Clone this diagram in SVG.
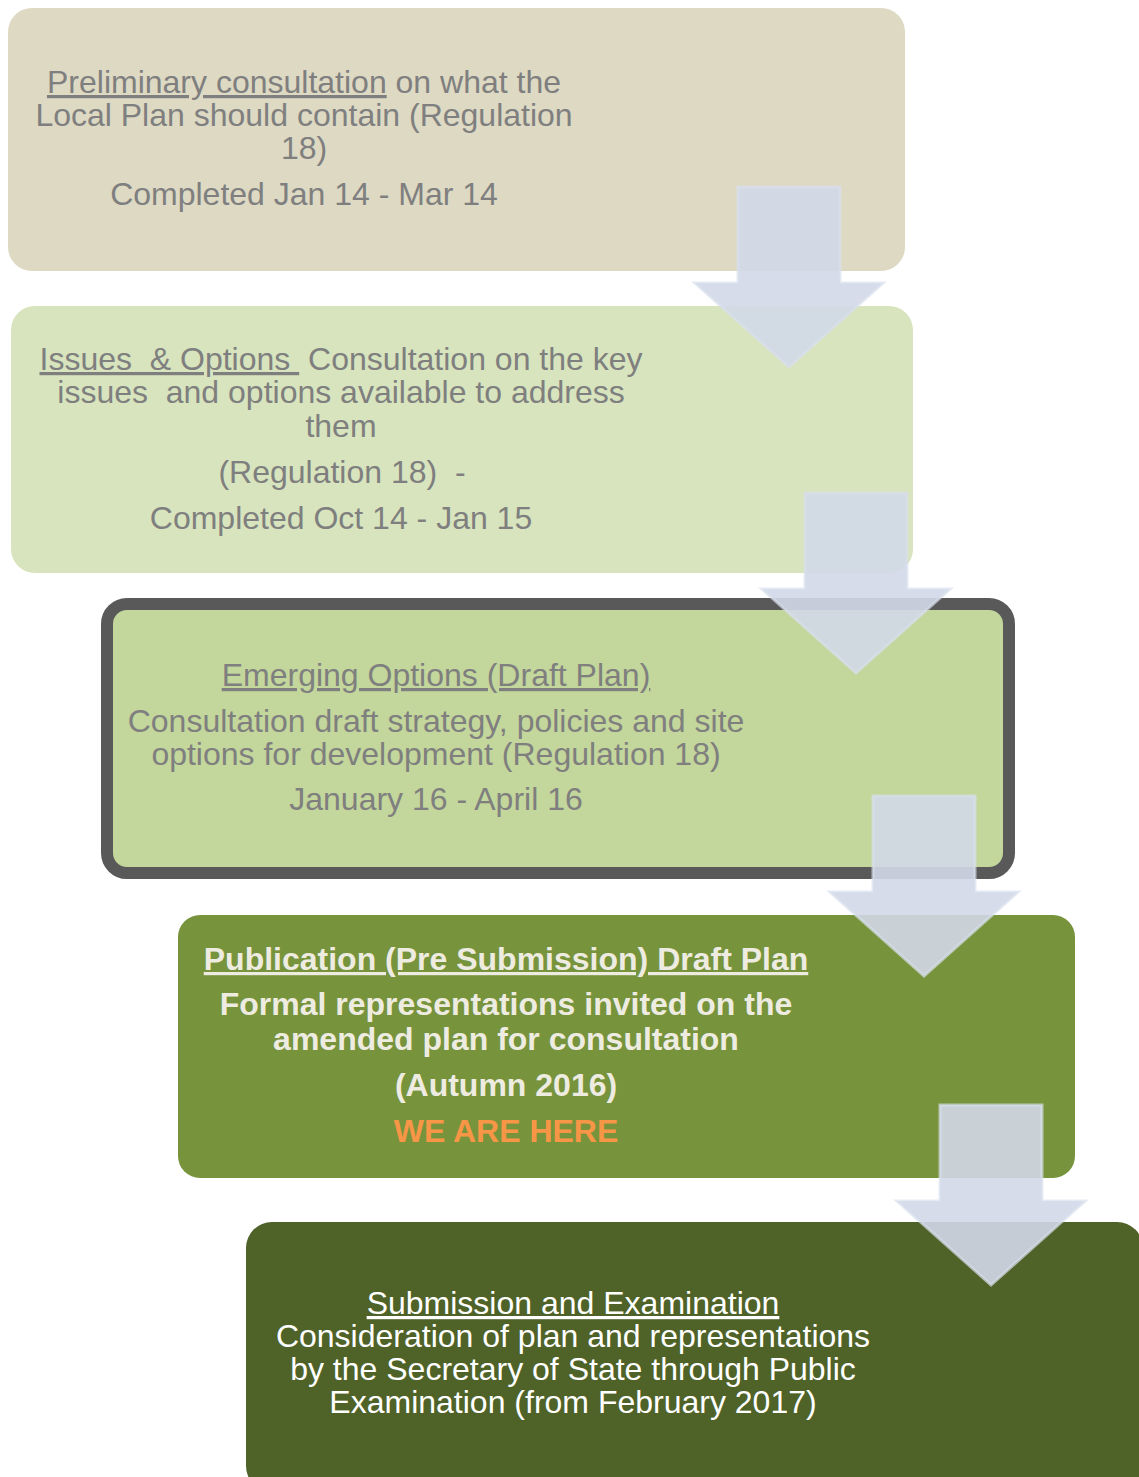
<svg xmlns="http://www.w3.org/2000/svg" width="1139" height="1477" viewBox="0 0 1139 1477">
<style>
text{font-family:"Liberation Sans",Arial,sans-serif;font-size:32px;text-anchor:middle}
.g{fill:#7f7f7f}
.w{fill:#eeece1;font-weight:bold}
.o{fill:#f79646;font-weight:bold}
.wh{fill:#ffffff}
.u{text-decoration:underline}
.arrow{fill:#d1d8e8;fill-opacity:0.9;stroke:#d9dfed;stroke-opacity:0.7;stroke-width:3;stroke-linejoin:miter}
</style>
<rect width="1139" height="1477" fill="#ffffff"/>
<g id="node1">
<rect x="8" y="8" width="897" height="263" rx="24" fill="#ddd9c3"/>
<text class="g" x="304" y="93"><tspan class="u">Preliminary consultation</tspan> on what the</text>
<text class="g" x="304" y="126">Local Plan should contain (Regulation</text>
<text class="g" x="304" y="159">18)</text>
<text class="g" x="304" y="205">Completed Jan 14 - Mar 14</text>
</g>
<g id="node2">
<rect x="11" y="306" width="902" height="267" rx="24" fill="#d7e4bd"/>
<text class="g" x="341" y="370" xml:space="preserve"><tspan class="u">Issues  &amp; Options </tspan> Consultation on the key</text>
<text class="g" x="341" y="403" xml:space="preserve">issues  and options available to address</text>
<text class="g" x="341" y="437">them</text>
<text class="g" x="342" y="483" xml:space="preserve">(Regulation 18)  -</text>
<text class="g" x="341" y="529">Completed Oct 14 - Jan 15</text>
</g>
<g id="node3">
<rect x="107" y="604" width="902" height="269" rx="20" fill="#c3d69b" stroke="#595959" stroke-width="12"/>
<text class="g u" x="436" y="686">Emerging Options (Draft Plan)</text>
<text class="g" x="436" y="732">Consultation draft strategy, policies and site</text>
<text class="g" x="436" y="765">options for development (Regulation 18)</text>
<text class="g" x="436" y="810">January 16 - April 16</text>
</g>
<g id="node4">
<rect x="178" y="915" width="897" height="263" rx="22" fill="#77933c"/>
<text class="w u" x="506" y="970">Publication (Pre Submission) Draft Plan</text>
<text class="w" x="506" y="1015">Formal representations invited on the</text>
<text class="w" x="506" y="1050">amended plan for consultation</text>
<text class="w" x="506" y="1096">(Autumn 2016)</text>
<text class="o" x="506" y="1142">WE ARE HERE</text>
</g>
<g id="node5">
<rect x="246" y="1222" width="897" height="270" rx="26" fill="#4f6228"/>
<text class="wh u" x="573" y="1314">Submission and Examination</text>
<text class="wh" x="573" y="1347">Consideration of plan and representations</text>
<text class="wh" x="573" y="1380">by the Secretary of State through Public</text>
<text class="wh" x="573" y="1413">Examination (from February 2017)</text>
</g>
<g id="connectors">
<polygon class="arrow" points="738,187 840,187 840,283 883,283 789,367 695,283 738,283"/>
<polygon class="arrow" points="805,493 907,493 907,589 950,589 856,673 762,589 805,589"/>
<polygon class="arrow" points="873,796 975,796 975,892 1018,892 924,976 830,892 873,892"/>
<polygon class="arrow" points="940,1105 1042,1105 1042,1201 1085,1201 991,1285 897,1201 940,1201"/>
</g>
</svg>
